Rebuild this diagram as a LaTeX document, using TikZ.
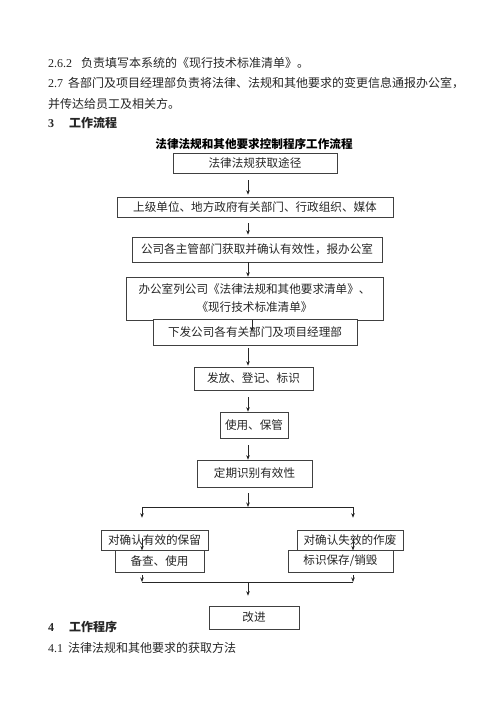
\documentclass[tikz,border=0pt]{standalone}
\usepackage{fontspec}
\setmainfont{Liberation Serif}
\newfontfamily\cjk{Noto Sans CJK SC}
\usetikzlibrary{arrows.meta}
\begin{document}
\begin{tikzpicture}[x=1pt,y=-1pt,
  box/.style={draw=black!75,line width=0.6pt,inner sep=0pt,font=\cjk\fontsize{11.6}{14}\selectfont,text=black!85},
  txt/.style={anchor=west,inner sep=0pt,font=\fontsize{12}{14}\selectfont,text=black!85},
  arr/.style={draw=black!85,line width=0.6pt,-{Stealth[length=4.5pt,width=3.5pt]}},
  ln/.style={draw=black!85,line width=0.6pt}]
\useasboundingbox[fill=white] (0,0) rectangle (500,707);
% body text
\node[txt] (t1) at (48,63) {2.6.2\hspace{9pt}{\cjk 负责填写本系统的《现行技术标准清单》。}};
\node[txt] (t2) at (48,83) {2.7\hspace{5pt}{\cjk 各部门及项目经理部负责将法律、法规和其他要求的变更信息通报办公室，}};
\node[txt] (t3) at (48,104) {\cjk 并传达给员工及相关方。};
\node[txt] (t4) at (48,123) {\bfseries 3\hspace{15pt}{\cjk\bfseries 工作流程}};
\node[inner sep=0pt,font=\cjk\bfseries\fontsize{11.6}{14}\selectfont] (title) at (254,144) {法律法规和其他要求控制程序工作流程};
% boxes
\node[box,minimum width=164,minimum height=20] (b1) at (255,163) {法律法规获取途径};
\node[box,minimum width=276,minimum height=20] (b2) at (255,207) {上级单位、地方政府有关部门、行政组织、媒体};
\node[box,minimum width=250,minimum height=25] (b3) at (257,249.5) {公司各主管部门获取并确认有效性，报办公室};
\node[box,minimum width=257,minimum height=43,align=center,font=\cjk\fontsize{11.6}{18}\selectfont] (b4) at (254.5,298.5) {办公室列公司《法律法规和其他要求清单》、\\《现行技术标准清单》};
\node[box,minimum width=204,minimum height=26,fill=white] (b5) at (255,332) {下发公司各有关部门及项目经理部};
\node[box,minimum width=119,minimum height=23] (b6) at (253.5,378.5) {发放、登记、标识};
\node[box,minimum width=68,minimum height=26] (b7) at (254,425) {使用、保管};
\node[box,minimum width=115,minimum height=27] (b8) at (254.5,473.5) {定期识别有效性};
\node[box,minimum width=107,minimum height=20] (l1) at (154.5,540) {对确认有效的保留};
\node[box,minimum width=89,minimum height=22,fill=white] (l2) at (159.5,561) {备查、使用};
\node[box,minimum width=106,minimum height=20] (r1) at (350,540) {对确认失效的作废};
\node[box,minimum width=105,minimum height=22,fill=white] (r2) at (340.5,561) {标识保存/销毁};
\node[box,minimum width=90,minimum height=23] (b9) at (254,617.5) {改进};
\node[txt] (t5) at (48,627) {\bfseries 4\hspace{15pt}{\cjk\bfseries 工作程序}};
\node[txt] (t6) at (48,648) {4.1\hspace{5pt}{\cjk 法律法规和其他要求的获取方法}};
% connector coordinates
\coordinate (ax) at (248,0);
\coordinate (sl) at (142,507);
\coordinate (sr) at (353,507);
\coordinate (sm) at (248,507);
\coordinate (jl) at (142,582);
\coordinate (jr) at (353,582);
\coordinate (jm) at (248,582);
% arrows
\draw[arr] ([yshift=-7pt]b1.south -| ax) -- ([yshift=2pt]b2.north -| ax);
\draw[arr] ([yshift=-6pt]b2.south -| ax) -- ([yshift=2pt]b3.north -| ax);
\draw[arr] (b3.south -| ax) -- (b4.north -| ax);
\draw[arr] ([xshift=4pt]b4.south -| ax) -- ([xshift=4pt,yshift=-13pt]b5.north -| ax);
\draw[arr] ([yshift=-3pt]b5.south -| ax) -- ([yshift=1pt]b6.north -| ax);
\draw[arr] ([yshift=-7pt]b6.south -| ax) -- (b7.north -| ax);
\draw[arr] ([yshift=-7pt]b7.south -| ax) -- (b8.north -| ax);
\draw[arr] ([yshift=-6pt]b8.south -| ax) -- (sm);
\draw[ln] (sl) -- (sr);
\draw[arr] (sl) -- ([yshift=12pt]l1.north -| sl);
\draw[arr] (sr) -- ([yshift=12pt]r1.north -| sr);
\draw[arr] ([yshift=-8pt]l1.north -| sl) -- (l1.south -| sl);
\draw[arr] ([yshift=-8pt]r1.north -| sr) -- (r1.south -| sr);
\draw[arr] ([yshift=-3pt]l2.south -| sl) -- (jl);
\draw[arr] ([yshift=-3pt]r2.south -| sr) -- (jr);
\draw[ln] (jl) -- (jr);
\draw[arr] (jm) -- ([yshift=10pt]b9.north -| jm);
\end{tikzpicture}
\end{document}
